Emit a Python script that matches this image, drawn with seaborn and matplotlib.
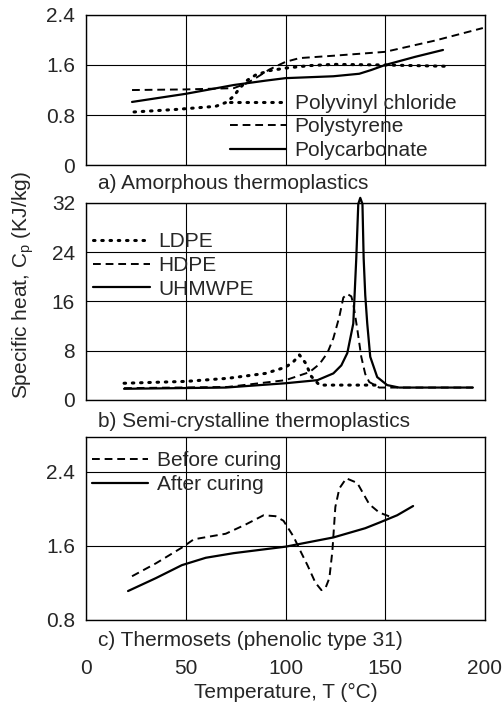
import matplotlib
matplotlib.use('Agg')
import matplotlib.pyplot as plt
import seaborn as sns

# a) Amorphous thermoplastics
pvc_T = [24, 45, 65, 70, 74, 77, 81, 85, 92, 100, 112, 124, 150, 180]
pvc_cp = [0.85, 0.89, 0.94, 1.0, 1.1, 1.23, 1.36, 1.44, 1.51, 1.55, 1.59, 1.61, 1.6, 1.58]
ps_T = [23, 50, 74, 80, 85, 92, 100, 107, 125, 150, 175, 199]
ps_cp = [1.2, 1.21, 1.23, 1.3, 1.39, 1.53, 1.65, 1.71, 1.75, 1.81, 1.99, 2.19]
pc_T = [23, 50, 74, 90, 100, 124, 137, 143, 150, 165, 179]
pc_cp = [1.01, 1.14, 1.28, 1.35, 1.39, 1.42, 1.46, 1.52, 1.6, 1.73, 1.84]

# b) Semi-crystalline thermoplastics
ldpe_T = [19, 50, 71, 90, 100, 104, 107, 110, 113, 117, 130, 145]
ldpe_cp = [2.7, 3.0, 3.5, 4.3, 5.3, 6.2, 7.3, 6.0, 3.8, 2.4, 2.4, 2.4]
hdpe_T = [19, 71, 100, 112, 117, 121, 124, 127, 129, 131, 133, 134, 136, 138, 140, 142, 147, 194]
hdpe_cp = [1.9, 2.1, 3.2, 4.5, 5.8, 7.6, 10.0, 13.5, 16.6, 17.2, 16.8, 15.6, 11.5, 7.0, 4.2, 2.9, 2.0, 2.0]
uh_T = [19, 70, 100, 116, 124, 128, 131, 134, 135.5, 136.5, 137.5, 138.6, 139.2, 140, 141, 142.5, 146, 151, 157, 194]
uh_cp = [1.8, 2.0, 2.7, 3.2, 4.3, 5.6, 7.6, 12.4, 23.0, 31.8, 32.8, 31.8, 23.0, 17.0, 12.4, 7.0, 3.7, 2.4, 2.0, 2.0]

# c) Thermosets (phenolic type 31)
bc_T = [23, 35, 48, 54, 62, 70, 80, 89, 95, 99, 104, 108, 111, 115, 118, 120, 122, 123.5, 125, 127,
        130.5, 136, 142, 147, 153]
bc_cp = [1.27, 1.41, 1.58, 1.67, 1.7, 1.73, 1.83, 1.93, 1.92, 1.87, 1.7, 1.52, 1.39, 1.2, 1.12, 1.14, 1.25,
         1.54, 2.02, 2.22, 2.33, 2.28, 2.05, 1.96, 1.91]
ac_T = [21, 35, 48, 60, 74, 100, 124, 140, 147, 156, 164]
ac_cp = [1.11, 1.25, 1.39, 1.47, 1.52, 1.59, 1.69, 1.79, 1.85, 1.93, 2.03]

x_ticks = [0, 50, 100, 150, 200]

sns.set_style('white')
plt.rcParams['font.family'] = ['Liberation Sans', 'DejaVu Sans']
plt.rcParams['mathtext.fontset'] = 'custom'
plt.rcParams['mathtext.rm'] = 'Liberation Sans'
fs = 15

fig = plt.figure(figsize=(5.04, 7.09), dpi=100)
ax_a = fig.add_axes([0.171, 0.767, 0.791, 0.212])
ax_b = fig.add_axes([0.171, 0.436, 0.791, 0.278])
ax_c = fig.add_axes([0.171, 0.126, 0.791, 0.258])

dot = (0, (0.5, 2.2))
dash = (0, (4, 2.5))

sns.lineplot(x=pvc_T, y=pvc_cp, ax=ax_a, color='k', lw=2.2, linestyle=dot, dash_capstyle='round', label='Polyvinyl chloride')
sns.lineplot(x=ps_T, y=ps_cp, ax=ax_a, color='k', lw=1.4, linestyle=dash, label='Polystyrene')
sns.lineplot(x=pc_T, y=pc_cp, ax=ax_a, color='k', lw=1.6, label='Polycarbonate')

sns.lineplot(x=ldpe_T, y=ldpe_cp, ax=ax_b, color='k', lw=2.2, linestyle=dot, dash_capstyle='round', label='LDPE')
sns.lineplot(x=hdpe_T, y=hdpe_cp, ax=ax_b, color='k', lw=1.4, linestyle=dash, label='HDPE')
sns.lineplot(x=uh_T, y=uh_cp, ax=ax_b, color='k', lw=1.6, label='UHMWPE', clip_on=False)

sns.lineplot(x=bc_T, y=bc_cp, ax=ax_c, color='k', lw=1.4, linestyle=dash, label='Before curing')
sns.lineplot(x=ac_T, y=ac_cp, ax=ax_c, color='k', lw=1.6, label='After curing')

setup = [
    (ax_a, (0, 2.4), [0, 0.8, 1.6, 2.4], ['0', '0.8', '1.6', '2.4'], 'a) Amorphous thermoplastics', (0.361, 0.475)),
    (ax_b, (0, 32), [0, 8, 16, 24, 32], ['0', '8', '16', '24', '32'], 'b) Semi-crystalline thermoplastics', (0.018, 0.85)),
    (ax_c, (0.8, 2.78), [0.8, 1.6, 2.4], ['0.8', '1.6', '2.4'], 'c) Thermosets (phenolic type 31)', (0.015, 0.92)),
]
for ax, ylim, yt, ytl, title, anchor in setup:
    ax.set_xlim(0, 200)
    ax.set_ylim(*ylim)
    ax.set_xticks(x_ticks)
    ax.set_yticks(yt)
    ax.set_yticklabels(ytl, fontsize=fs)
    ax.grid(True, color='k', lw=0.8)
    for s in ax.spines.values():
        s.set_color('k')
        s.set_linewidth(1.0)
    ax.tick_params(length=0, pad=8)
    ax.text(0.03, -0.06, title, transform=ax.transAxes, fontsize=fs, ha='left', va='top')
    ax.legend(loc='upper left', bbox_to_anchor=anchor, frameon=False, fontsize=fs,
              borderpad=0, borderaxespad=0, handlelength=2.7, handletextpad=0.4, labelspacing=0.22)

ax_a.set_xticklabels([])
ax_b.set_xticklabels([])
ax_c.set_xticklabels([str(t) for t in x_ticks], fontsize=fs)
ax_c.tick_params(axis='x', pad=28)
ax_c.set_xlabel('Temperature, T (°C)', fontsize=fs, labelpad=4)

fig.text(0.045, 0.598, 'Specific heat, C$_{\\mathregular{p}}$ (KJ/kg)', rotation=90,
         fontsize=fs, ha='center', va='center')

fig.savefig('out.png', dpi=100)
